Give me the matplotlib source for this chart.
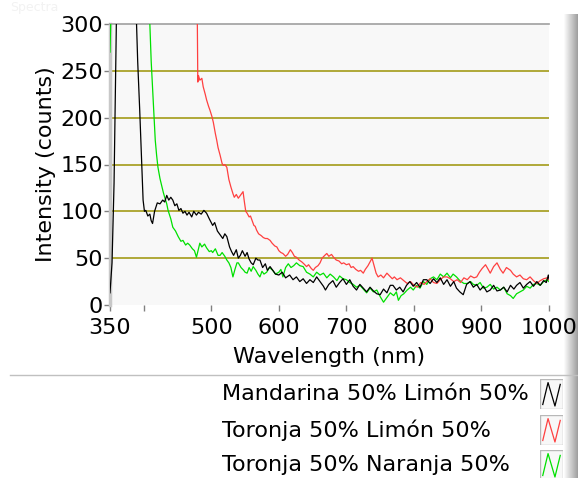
import numpy as np
import matplotlib.pyplot as plt
from matplotlib.patches import Rectangle
from matplotlib.lines import Line2D

plt.rcParams['font.family'] = ['DejaVu Sans']

# Mandarina 50% Limón 50%
wl_negro = [350, 353, 356, 358, 360, 375, 388, 391, 394, 397, 399, 401, 403, 406, 409, 411, 413, 416,
            420, 424, 428, 431, 434, 437, 440, 443, 446, 449, 452, 455, 458, 461, 464, 467, 471, 474,
            478, 481, 485, 489, 493, 497, 502, 505, 509, 513, 517, 520, 523, 527, 530, 533, 537, 540,
            543, 546, 550, 553, 556, 559, 562, 566, 569, 572, 576, 580, 583, 587, 591, 595, 600, 605,
            610, 616, 621, 626, 631, 636, 641, 646, 651, 656, 661, 666, 669, 674, 680, 685, 690, 695,
            700, 705, 710, 715, 720, 725, 730, 735, 740, 745, 750, 755, 760, 765, 769, 774, 779, 784,
            789, 794, 799, 804, 809, 814, 819, 824, 829, 834, 839, 844, 849, 854, 859, 863, 868, 873,
            878, 883, 888, 893, 898, 903, 908, 913, 918, 923, 928, 933, 938, 943, 948, 952, 957, 962,
            967, 972, 977, 982, 987, 992, 996, 999, 1000]
int_negro = [13, 45, 130, 230, 330, 600, 330, 260, 208, 150, 112, 100, 101, 95, 97, 90, 87, 100,
             109, 108, 112, 110, 117, 112, 115, 112, 106, 108, 101, 103, 98, 100, 96, 99, 94, 100,
             96, 99, 97, 101, 98, 92, 85, 88, 79, 75, 71, 76, 73, 62, 57, 53, 59, 50,
             53, 58, 52, 56, 49, 45, 43, 50, 48, 48, 40, 44, 37, 41, 37, 33, 32, 35,
             29, 32, 27, 30, 25, 28, 23, 27, 24, 30, 25, 20, 16, 22, 26, 19, 24, 28,
             22, 27, 20, 16, 22, 18, 14, 19, 15, 12, 11, 17, 13, 21, 21, 16, 19, 14,
             21, 25, 20, 24, 19, 27, 27, 23, 28, 24, 29, 22, 27, 20, 25, 18, 14, 11,
             22, 25, 19, 22, 16, 20, 14, 16, 21, 15, 16, 19, 14, 21, 17, 21, 24, 18,
             22, 25, 20, 25, 21, 26, 24, 32, 28]

# Toronja 50% Limón 50%
wl_rojo = [478, 479, 480, 481, 483, 486, 488, 491, 493, 496, 498, 501, 503, 506, 508, 510, 513, 516,
           518, 520, 523, 526, 529, 532, 534, 537, 540, 543, 547, 549, 551, 553, 556, 558, 560, 563,
           565, 567, 570, 574, 577, 580, 583, 587, 590, 594, 597, 600, 603, 606, 610, 613, 617, 620,
           623, 626, 630, 634, 637, 641, 644, 648, 651, 654, 658, 661, 664, 668, 671, 674, 678, 681,
           685, 689, 693, 696, 700, 704, 707, 710, 714, 718, 721, 725, 728, 732, 735, 738, 741, 744,
           747, 751, 755, 760, 764, 768, 771, 775, 780, 785, 790, 795, 800, 805, 810, 815, 819, 824,
           829, 834, 839, 844, 849, 854, 859, 864, 869, 874, 879, 884, 889, 893, 897, 901, 906, 910,
           913, 918, 923, 928, 932, 937, 943, 947, 952, 957, 962, 967, 972, 977, 982, 987, 992, 997,
           1000]
int_rojo = [420, 330, 238, 245, 240, 242, 233, 225, 219, 212, 208, 201, 195, 183, 176, 168, 160, 151,
            149, 150, 147, 134, 126, 119, 115, 118, 114, 117, 121, 110, 100, 98, 94, 95, 91, 85,
            84, 80, 76, 74, 72, 71, 71, 69, 66, 63, 62, 58, 56, 55, 52, 54, 59, 56,
            52, 51, 48, 46, 44, 41, 43, 39, 37, 40, 42, 45, 50, 53, 55, 52, 54, 51,
            48, 47, 44, 45, 43, 44, 40, 41, 38, 36, 37, 34, 38, 42, 46, 50, 42, 34,
            30, 32, 29, 34, 31, 28, 30, 27, 29, 26, 23, 25, 21, 19, 24, 22, 25, 28,
            24, 23, 27, 30, 30, 28, 25, 27, 24, 29, 27, 31, 29, 30, 35, 39, 43, 38,
            34, 41, 45, 38, 34, 40, 37, 33, 30, 32, 28, 27, 30, 26, 23, 26, 28, 29,
            27]

# Toronja 50% Naranja 50%
wl_verde = [350, 351, 353, 380, 407, 409, 411, 414, 417, 419, 421, 424, 427, 429, 431, 434, 436, 440,
            443, 447, 451, 455, 458, 462, 465, 468, 472, 475, 478, 480, 483, 486, 490, 493, 497, 500,
            502, 506, 510, 513, 516, 520, 523, 526, 529, 532, 535, 538, 540, 544, 548, 550, 553, 556,
            559, 562, 566, 569, 572, 575, 578, 582, 586, 591, 595, 600, 603, 606, 610, 614, 618, 622,
            626, 631, 636, 641, 646, 651, 656, 661, 666, 671, 676, 681, 686, 690, 695, 700, 705, 710,
            715, 720, 725, 730, 735, 740, 745, 750, 755, 760, 765, 770, 774, 777, 781, 785, 790, 795,
            799, 804, 809, 814, 819, 824, 829, 834, 839, 844, 849, 854, 858, 863, 868, 874, 879, 884,
            888, 893, 898, 903, 908, 913, 918, 923, 928, 933, 938, 943, 947, 952, 957, 962, 967, 972,
            977, 982, 987, 992, 997, 1000]
int_verde = [270, 300, 360, 600, 330, 300, 260, 219, 176, 160, 147, 135, 126, 120, 115, 108, 101, 92,
             83, 79, 73, 68, 69, 64, 66, 64, 60, 58, 51, 57, 66, 62, 65, 61, 57, 58,
             56, 60, 53, 53, 56, 52, 48, 45, 40, 30, 38, 45, 45, 40, 37, 35, 34, 40,
             36, 41, 37, 33, 30, 36, 33, 35, 40, 37, 33, 35, 38, 30, 40, 44, 40, 42,
             45, 42, 41, 35, 33, 30, 35, 32, 34, 29, 33, 30, 26, 31, 28, 27, 24, 22,
             19, 21, 17, 13, 18, 14, 16, 9, 3, 8, 13, 10, 14, 5, 10, 12, 16, 19,
             16, 21, 18, 25, 22, 28, 30, 27, 33, 30, 34, 29, 33, 30, 26, 23, 23, 25,
             22, 21, 24, 18, 19, 22, 17, 19, 16, 19, 12, 10, 7, 12, 14, 16, 20, 18,
             22, 23, 21, 25, 27, 25]

series = ["Mandarina 50% Limón 50%", "Toronja 50% Limón 50%", "Toronja 50% Naranja 50%"]
colores = ["#000000", "#ff4040", "#00e000"]
x_ticks = [350, 400, 500, 600, 700, 800, 900, 1000]
x_labels = ["350", "", "500", "600", "700", "800", "900", "1000"]
y_ticks = [0, 50, 100, 150, 200, 250, 300]

W, H = 578, 478
fig = plt.figure(figsize=(W / 100, H / 100), dpi=100)
fig.patch.set_facecolor("white")

# right hand shaded bar (behind the tick labels)
barra = fig.add_axes([564 / W, 0, 14 / W, 1 - 14 / H], zorder=0)
barra.imshow(np.linspace(0.99, 0.62, 50).reshape(1, -1), cmap="gray", vmin=0, vmax=1,
             aspect="auto", extent=[0, 1, 0, 1])
barra.axis("off")

ax = fig.add_axes([110 / W, 1 - 305 / H, (549 - 110) / W, (305 - 24) / H], zorder=2)
ax.set_facecolor("#f8f8f8")

ax.plot(wl_verde, int_verde, color=colores[2], lw=0.9, zorder=3)
ax.plot(wl_rojo, int_rojo, color=colores[1], lw=0.9, zorder=3)
ax.plot(wl_negro, int_negro, color=colores[0], lw=0.9, zorder=4)

ax.set_xlim(350, 1000)
ax.set_ylim(0, 300)
for y in y_ticks[1:-1]:
    ax.axhline(y, color="#b0a838", lw=1.4, zorder=1)

ax.set_xticks(x_ticks)
ax.set_xticklabels(x_labels)
ax.set_yticks(y_ticks)
ax.tick_params(axis="both", colors="#808080", labelcolor="black", labelsize=16, length=4, width=1)
ax.tick_params(axis="x", pad=5)
ax.tick_params(axis="y", pad=1)

for s in ["right", "bottom"]:
    ax.spines[s].set_visible(False)
ax.spines["top"].set_color("#a0a0a0")
ax.spines["top"].set_linewidth(1.2)
ax.spines["left"].set_color("#c8c8c8")
ax.spines["left"].set_linewidth(2.5)

ax.set_xlabel("Wavelength (nm)", fontsize=16, labelpad=7)
ax.set_ylabel("Intensity (counts)", fontsize=16, labelpad=3)

fig.text(10 / W, 1 - 8 / H, "Spectra", fontsize=9, color="#f2f2f2", va="center")

# separator line above legend
fig.add_artist(Line2D([10 / W, 1.0], [1 - 375 / H, 1 - 375 / H], color="#c0c0c0", lw=1))

# legend
filas = [394, 430, 465]
for nombre, c, yp in zip(series, colores, filas):
    fig.text(222 / W, 1 - yp / H, nombre, fontsize=16, va="center", ha="left")
    icono = fig.add_axes([540 / W, 1 - (yp + 15) / H, 23 / W, 30 / H])
    icono.set_xlim(0, 1)
    icono.set_ylim(0, 1)
    icono.axis("off")
    icono.add_patch(Rectangle((0, 0), 1, 1, fc="#f8f8f8", ec="#b8b8b8", lw=1))
    icono.plot([0.12, 0.35, 0.65, 0.88], [0.15, 0.88, 0.1, 0.82], color=c, lw=0.9)

fig.savefig("out.png", dpi=100)
